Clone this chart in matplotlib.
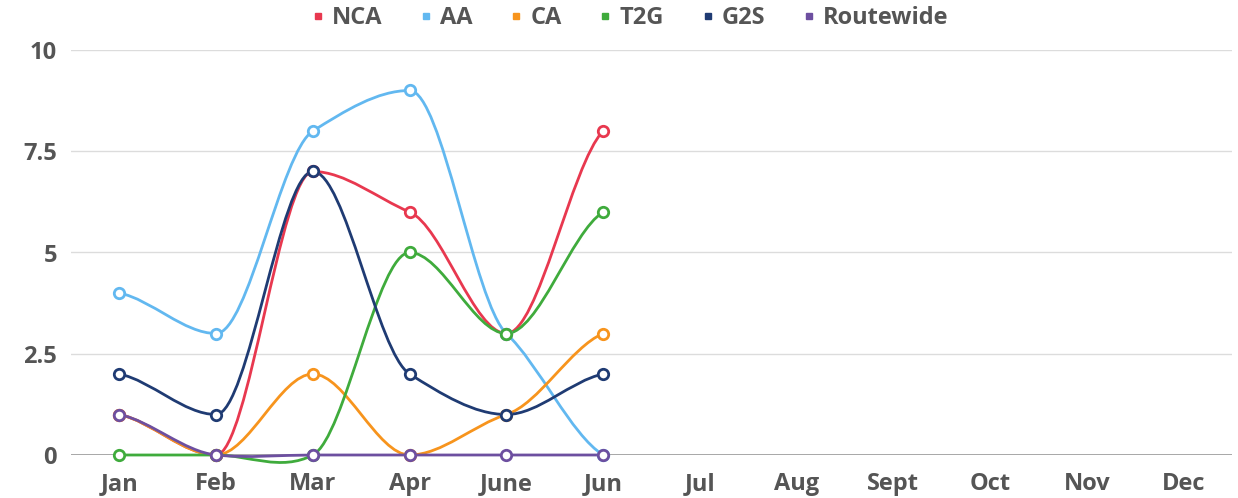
import matplotlib.pyplot as plt
import numpy as np
from matplotlib.path import Path
from matplotlib.patches import PathPatch

plt.rcParams['font.family'] = ['Open Sans', 'DejaVu Sans']

months = ['Jan', 'Feb', 'Mar', 'Apr', 'June', 'Jun', 'Jul', 'Aug', 'Sept', 'Oct', 'Nov', 'Dec']
nca = [1, 0, 7, 6, 3, 8]
aa = [4, 3, 8, 9, 3, 0]
ca = [1, 0, 2, 0, 1, 3]
t2g = [0, 0, 0, 5, 3, 6]
g2s = [2, 1, 7, 2, 1, 2]
routewide = [1, 0, 0, 0, 0, 0]

series = [('NCA', nca, '#e8384f'), ('AA', aa, '#62b8f0'), ('CA', ca, '#f7941d'),
          ('T2G', t2g, '#3fab3c'), ('G2S', g2s, '#1f3b73'), ('Routewide', routewide, '#6d4fa0')]

k = 0.5  # tangent scale of the smoothing


def smooth_path(xs, ys):
    ys = np.array(ys, float)
    n = len(ys)
    m = np.zeros(n)
    for i in range(n):
        if i == 0:
            m[i] = k * (ys[1] - ys[0])
        elif i == n - 1:
            m[i] = k * (ys[-1] - ys[-2])
        else:
            a, b = ys[i] - ys[i-1], ys[i+1] - ys[i]
            if a * b < 0:
                m[i] = 0.0  # flat at peaks and troughs
            else:
                m[i] = k * (ys[i+1] - ys[i-1]) / 2
    verts = [(xs[0], ys[0])]
    codes = [Path.MOVETO]
    for i in range(1, n):
        h = (xs[i] - xs[i-1]) / 3
        verts += [(xs[i-1] + h, ys[i-1] + m[i-1] * h), (xs[i] - h, ys[i] - m[i] * h), (xs[i], ys[i])]
        codes += [Path.CURVE4] * 3
    return Path(verts, codes)


fig = plt.figure(figsize=(12.38, 4.98), dpi=100)
ax = fig.add_axes([71 / 1238, 1 - 455 / 498, (1232 - 71) / 1238, 405 / 498])

x = np.arange(len(months))
for name, vals, col in series:
    xs = x[:len(vals)]
    patch = PathPatch(smooth_path(xs, vals), facecolor='none', edgecolor=col, lw=2.0,
                      clip_on=False, zorder=3)
    ax.add_patch(patch)
    ax.plot(xs, vals, linestyle='none', marker='o', ms=7.5, mfc='white', mec=col, mew=2,
            clip_on=False, zorder=4)
    ax.plot([], [], linestyle='none', marker='s', ms=5, color=col, label=name)

ax.set_xlim(-0.5, len(months) - 0.5)
ax.set_ylim(0, 10)
ax.set_yticks([0, 2.5, 5, 7.5, 10])
ax.set_yticklabels(['0', '2.5', '5', '7.5', '10'])
ax.set_xticks(x)
ax.set_xticklabels(months)
ax.grid(axis='y', color='#dcdcdc', lw=1)
ax.axhline(0, color='#9a9a9a', lw=1.2, zorder=2)
for s in ax.spines.values():
    s.set_visible(False)
ax.tick_params(length=0, labelsize=17, labelcolor='#555555')
ax.tick_params(axis='y', pad=10)
ax.tick_params(axis='x', pad=12)
for lab in ax.get_xticklabels() + ax.get_yticklabels():
    lab.set_fontweight('bold')

fig.legend(loc='upper center', bbox_to_anchor=(0.509, 1.03), ncol=6, frameon=False,
           prop={'weight': 'bold', 'size': 17}, labelcolor='#555555',
           handlelength=0.5, handletextpad=0.35, columnspacing=1.6)

fig.savefig('out.png', dpi=100)
